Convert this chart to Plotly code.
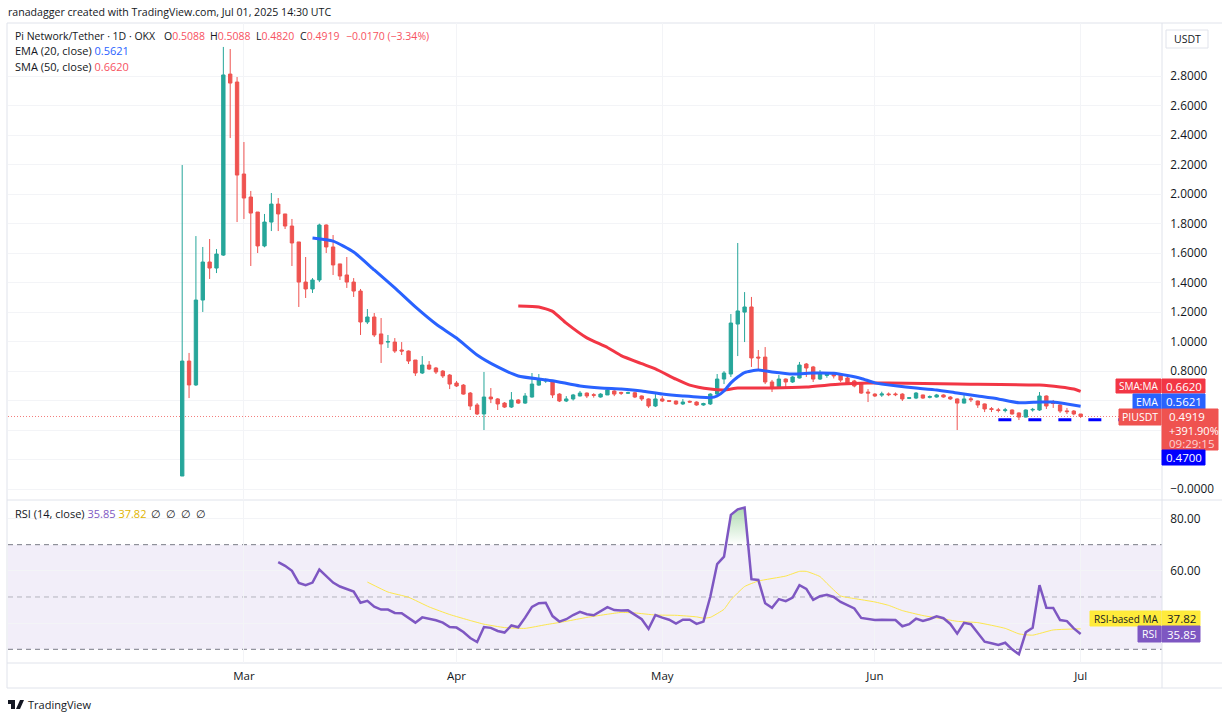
import pandas as pd
import plotly.graph_objects as go

W = 1222
H = 716
FONT = "Open Sans"
UP = "#26a69a"
DOWN = "#ef5350"
TXT = "#131722"
GRID = "#f3f4f7"
BORDER = "#e0e3eb"
EMA_C = "#2962ff"
SMA_C = "#f23645"
RSI_C = "#7e57c2"
MA_C = "#fde74c"

# daily candles, Feb 20 - Jul 1 2025
dates = pd.date_range("2025-02-20", "2025-07-01", freq="D")
opens = [.088, .868, .706, 1.282, 1.540, 1.499, 1.587, 2.815, 2.761,
         2.137, 1.981, 1.879, 1.649, 1.811, 1.933, 1.866, 1.784, 1.676, 1.404, 1.357, 1.418, 1.791, 1.642, 1.527, 1.452,
         1.404, 1.343, 1.133, 1.167, 1.052, .997, .997, .943, .936, .875, .787, .841, .821, .80, .773,
         .719, .705, .651, .57, .509, .624, .611, .583, .556, .604, .583, .624, .705, .732, .733,
         .644, .597, .611, .631, .651, .64, .624, .638, .665, .655, .65, .653, .631, .611, .563,
         .611, .60, .597, .577, .595, .59, .57, .577, .644, .746, .78, 1.119, 1.20, 1.235, .895, .895,
         .726, .685, .746, .726, .753, .848, .828, .746, .77, .78, .773, .753, .733, .719, .658,
         .644, .637, .645, .645, .644, .615, .617, .638, .622, .624, .638, .624, .611, .583, .612,
         .597, .577, .545, .537, .532, .536, .516, .488, .536, .536, .631, .585, .57, .53, .529,
         .5088]
highs = [2.198, .923, 1.716, 1.642, 1.696, 1.628, 2.999, 2.985, 2.795,
         2.354, 2.022, 1.879, 1.866, 2.008, 1.974, 1.866, 1.832, 1.676, 1.574, 1.431, 1.80, 1.795, 1.723, 1.527, 1.574,
         1.431, 1.357, 1.221, 1.194, 1.160, 1.045, 1.024, .997, .94, .875, .902, .868, .828, .807, .78,
         .733, .712, .658, .583, .794, .685, .617, .59, .658, .61, .651, .787, .78, .75, .74,
         .65, .63, .645, .665, .655, .65, .65, .68, .67, .66, .66, .66, .635, .615, .644,
         .63, .60, .60, .61, .60, .595, .585, .65, .78, .80, 1.187, 1.669, 1.336, 1.303, .943, .963,
         .74, .773, .75, .767, .862, .855, .835, .807, .79, .785, .78, .76, .74, .72, .678,
         .65, .66, .655, .655, .65, .622, .658, .64, .635, .645, .642, .63, .615, .638, .624,
         .60, .58, .556, .55, .55, .54, .52, .54, .55, .658, .635, .604, .575, .55, .535,
         .5088]
lows = [.088, .617, .699, 1.201, 1.425, 1.465, 1.581, 2.381, 1.811,
        1.832, 1.513, 1.601, 1.640, 1.750, 1.750, 1.764, 1.513, 1.235, 1.296, 1.330, 1.404, 1.601, 1.452, 1.418, 1.364,
        1.303, 1.045, 1.119, 1.031, .855, .957, .923, .909, .848, .767, .78, .807, .780, .753, .678,
        .692, .64, .536, .502, .40, .583, .536, .55, .55, .577, .577, .62, .70, .72, .617,
        .59, .59, .60, .628, .617, .62, .62, .638, .63, .638, .645, .617, .597, .55, .556,
        .59, .59, .57, .57, .585, .565, .565, .57, .638, .712, .76, .902, .997, .828, .807, .712,
        .658, .68, .692, .72, .75, .76, .726, .74, .755, .75, .726, .71, .69, .645, .59,
        .624, .625, .63, .63, .597, .61, .61, .612, .615, .62, .62, .605, .40, .58, .59,
        .55, .522, .522, .52, .52, .505, .468, .485, .525, .53, .543, .55, .516, .509, .50,
        .482]
closes = [.868, .706, 1.282, 1.540, 1.499, 1.594, 2.809, 2.754, 2.130,
          1.974, 1.872, 1.649, 1.811, 1.933, 1.866, 1.784, 1.669, 1.404, 1.357, 1.418, 1.791, 1.642, 1.520, 1.445, 1.404,
          1.343, 1.133, 1.167, 1.045, .984, 1.0, .936, .936, .868, .787, .841, .814, .794, .767, .712,
          .699, .644, .563, .509, .624, .611, .577, .556, .604, .583, .631, .712, .739, .739, .638,
          .597, .611, .638, .651, .631, .636, .644, .672, .644, .65, .653, .624, .611, .563, .611,
          .597, .595, .577, .59, .59, .57, .58, .644, .746, .787, 1.126, 1.208, 1.235, .889, .889, .726,
          .685, .746, .726, .76, .841, .821, .746, .78, .78, .767, .739, .719, .699, .651, .651,
          .631, .645, .64, .64, .611, .619, .651, .617, .627, .638, .624, .611, .583, .611, .606,
          .57, .543, .54, .533, .537, .509, .488, .536, .54, .631, .563, .58, .529, .525, .5089,
          .4919]

ema_dates = ["2025-03-11", "2025-03-14", "2025-03-17", "2025-03-20", "2025-03-23", "2025-03-26", "2025-03-29",
             "2025-04-01", "2025-04-04", "2025-04-07", "2025-04-10", "2025-04-13", "2025-04-15", "2025-04-19",
             "2025-04-22", "2025-04-25", "2025-04-28", "2025-05-01", "2025-05-04", "2025-05-08", "2025-05-09",
             "2025-05-10", "2025-05-11", "2025-05-12", "2025-05-13", "2025-05-15", "2025-05-17", "2025-05-20",
             "2025-05-23", "2025-05-26", "2025-05-28", "2025-05-30", "2025-06-01", "2025-06-04", "2025-06-07",
             "2025-06-10", "2025-06-13", "2025-06-16", "2025-06-19", "2025-06-22", "2025-06-25", "2025-06-27",
             "2025-06-29", "2025-07-01"]
ema_vals = [1.703, 1.682, 1.608, 1.486, 1.364, 1.235, 1.119, 1.024, .909, .828, .767, .746, .735, .699, .685, .678,
            .665, .644, .631, .62, .631, .665, .72, .76, .79, .807, .794, .78, .787, .785, .77, .75, .72, .70, .685,
            .672, .651, .631, .611, .585, .59, .59, .577, .5621]

sma_dates = ["2025-04-10", "2025-04-13", "2025-04-15", "2025-04-17", "2025-04-20", "2025-04-23", "2025-04-25",
             "2025-04-28", "2025-04-30", "2025-05-03", "2025-05-05", "2025-05-08", "2025-05-10", "2025-05-12",
             "2025-05-15", "2025-05-17", "2025-05-22", "2025-05-27", "2025-05-31", "2025-06-03", "2025-06-13",
             "2025-06-25", "2025-06-28", "2025-06-30", "2025-07-01"]
sma_vals = [1.241, 1.235, 1.205, 1.125, 1.025, .96, .905, .85, .815, .745, .705, .678, .672, .685, .685, .685, .692,
            .712, .719, .719, .712, .705, .692, .678, .662]

support_dates = ["2025-06-19", "2025-07-12"]
support_vals = [.47, .47]

rsi_dates = pd.date_range("2025-03-06", "2025-07-01", freq="D")
rsi_vals = [63.3, 61.9, 60.0, 55.4, 54.5, 55.5, 60.5, 57.8, 55.5, 54.0, 53.2, 52.1, 47.8, 48.5, 46.3, 45.2, 45.2,
            43.9, 43.8, 42.1, 40.2, 42.2, 41.7, 41.1, 40.2, 38.5,
            38.3, 36.6, 34.3, 32.8, 38.5, 38.2, 37.0, 36.4, 39.1, 38.4, 42.1, 46.2, 47.6, 47.8, 42.7, 40.6, 41.5,
            43.1, 44.3, 43.4, 43.0, 44.4, 46.1, 45.0, 44.8, 44.9, 43.1, 41.5, 37.8, 43.1,
            42.1, 41.3, 39.8, 41.3, 41.3, 39.7, 40.6, 50.1, 62.6, 65.4, 81.4, 83.5, 84.2, 56.8, 56.5, 47.6, 45.9,
            49.2, 48.4, 49.8, 54.5, 53.1, 48.9, 50.3, 50.8, 50.0, 48.1, 46.8, 45.6, 42.0, 41.6,
            41.2, 41.3, 41.3, 41.2, 38.8, 39.6, 41.7, 40.8, 41.6, 42.6, 41.9, 39.7, 36.0, 40.1, 39.6, 36.4, 32.9,
            32.3, 31.7, 32.5, 30.0, 28.1, 36.5, 38.2, 54.5, 45.9, 45.8, 41.2, 40.8, 38.0,
            35.85]

ma_dates = ["2025-03-19", "2025-03-22", "2025-03-25", "2025-03-28", "2025-03-31", "2025-04-03", "2025-04-05",
            "2025-04-08", "2025-04-11", "2025-04-14", "2025-04-17", "2025-04-20", "2025-04-23", "2025-04-25",
            "2025-04-27", "2025-04-30", "2025-05-03", "2025-05-06", "2025-05-07", "2025-05-08", "2025-05-10",
            "2025-05-11", "2025-05-13", "2025-05-15", "2025-05-19", "2025-05-21", "2025-05-22", "2025-05-24",
            "2025-05-25", "2025-05-27", "2025-05-29", "2025-06-01", "2025-06-03", "2025-06-05", "2025-06-08",
            "2025-06-11", "2025-06-13", "2025-06-16", "2025-06-20", "2025-06-22", "2025-06-24", "2025-06-27",
            "2025-07-01"]
ma_vals = [55.7, 51.9, 49.9, 46.2, 43.3, 41.0, 39.6, 38.3, 38.0, 39.4, 40.7, 42.2, 43.4, 44.1, 43.9, 43.1, 43.0, 42.4,
           41.9, 42.2, 45.3, 48.9, 54.0, 56.1, 58.0, 59.8, 59.8, 57.8, 55.2, 50.4, 49.4, 48.1, 46.8, 44.8, 42.9, 41.6,
           40.7, 40.2, 38.0, 35.9, 35.4, 37.4, 37.82]

# part of the RSI line above the 70 band
ob_dates = ["2025-05-10 07:00", "2025-05-11", "2025-05-12", "2025-05-13", "2025-05-13 12:30"]
ob_vals = [70, 81.4, 83.5, 84.2, 70]

price_ticks = [0, .2, .4, .6, .8, 1.0, 1.2, 1.4, 1.6, 1.8, 2.0, 2.2, 2.4, 2.6, 2.8]
price_labels = ["−0.0000", "", "", "", "0.8000", "1.0000", "1.2000", "1.4000", "1.6000", "1.8000", "2.0000",
                "2.2000", "2.4000", "2.6000", "2.8000"]
rsi_ticks = [40, 60, 80]
rsi_labels = ["", "60.00", "80.00"]
month_ticks = ["2025-03-01", "2025-04-01", "2025-05-01", "2025-06-01", "2025-07-01"]
month_labels = ["Mar", "Apr", "May", "Jun", "Jul"]


def fx(x):
    return x / W


def fy(y):
    return 1 - y / H


fig = go.Figure()
fig.add_trace(go.Candlestick(x=dates, open=opens, high=highs, low=lows, close=closes,
                             increasing=dict(line=dict(color=UP, width=1), fillcolor=UP),
                             decreasing=dict(line=dict(color=DOWN, width=1), fillcolor=DOWN),
                             whiskerwidth=0, xaxis="x", yaxis="y"))
fig.add_trace(go.Scatter(x=sma_dates, y=sma_vals, mode="lines", xaxis="x", yaxis="y",
                         line=dict(color=SMA_C, width=3, shape="spline", smoothing=0.5)))
fig.add_trace(go.Scatter(x=ema_dates, y=ema_vals, mode="lines", xaxis="x", yaxis="y",
                         line=dict(color=EMA_C, width=3, shape="spline", smoothing=0.5)))
fig.add_trace(go.Scatter(x=support_dates, y=support_vals, mode="lines", xaxis="x", yaxis="y",
                         line=dict(color="#0000ff", width=3, dash="13px,17px")))

fig.add_trace(go.Scatter(x=ob_dates, y=ob_vals, mode="lines", xaxis="x2", yaxis="y2", fill="toself",
                         line=dict(width=0),
                         fillgradient=dict(type="vertical",
                                           colorscale=[[0, "rgba(76,175,80,0)"], [1, "rgba(76,175,80,0.45)"]])))
fig.add_trace(go.Scatter(x=ma_dates, y=ma_vals, mode="lines", xaxis="x2", yaxis="y2",
                         line=dict(color=MA_C, width=1, shape="spline", smoothing=0.4)))
fig.add_trace(go.Scatter(x=rsi_dates, y=rsi_vals, mode="lines", xaxis="x2", yaxis="y2",
                         line=dict(color=RSI_C, width=2.5)))

x_range = ["2025-01-25 14:24", "2025-07-12 20:40"]
fig.update_layout(
    width=W, height=H, margin=dict(l=0, r=0, t=0, b=0), autosize=False,
    paper_bgcolor="white", plot_bgcolor="white", showlegend=False, hovermode=False,
    font=dict(family=FONT, size=11.5, color=TXT),
    xaxis=dict(domain=[fx(8), fx(1162)], range=x_range, anchor="y", rangeslider=dict(visible=False),
               tickvals=month_ticks, ticktext=month_labels, showticklabels=False,
               showgrid=True, gridcolor=GRID, gridwidth=1, zeroline=False, ticks=""),
    xaxis2=dict(domain=[fx(8), fx(1162)], range=x_range, anchor="y2",
                tickvals=month_ticks, ticktext=month_labels, showgrid=True, gridcolor=GRID, gridwidth=1,
                zeroline=False, ticks="outside", ticklen=2, tickcolor="rgba(0,0,0,0)",
                tickfont=dict(family=FONT, size=11.5, color=TXT)),
    yaxis=dict(domain=[fy(500), fy(23)], range=[-0.0746, 3.1615], side="right", anchor="x",
               tickvals=price_ticks, ticktext=price_labels, showgrid=True, gridcolor=GRID, gridwidth=1,
               zeroline=False, ticks="outside", ticklen=5, tickcolor="rgba(0,0,0,0)",
               tickfont=dict(family=FONT, size=11.8, color=TXT)),
    yaxis2=dict(domain=[fy(663), fy(501)], range=[24.76, 86.7], side="right", anchor="x2",
                tickvals=rsi_ticks, ticktext=rsi_labels, showgrid=True, gridcolor=GRID, gridwidth=1,
                zeroline=False, ticks="outside", ticklen=5, tickcolor="rgba(0,0,0,0)",
                tickfont=dict(family=FONT, size=11.8, color=TXT)),
)

shapes = []
annots = []


def box(x0, y0, x1, y1, fill="rgba(0,0,0,0)", line=None):
    shapes.append(dict(type="rect", xref="paper", yref="paper", x0=fx(x0), x1=fx(x1), y0=fy(y0), y1=fy(y1),
                       fillcolor=fill, line=dict(color=line or fill, width=1), layer="above"))


def label(x, y, text, color=TXT, size=11.5, anchor="left"):
    annots.append(dict(xref="paper", yref="paper", x=fx(x), y=fy(y), text=text, showarrow=False, xanchor=anchor,
                       yanchor="middle", font=dict(family=FONT, size=size, color=color),
                       borderpad=0, borderwidth=0))


# rsi band and levels
shapes.append(dict(type="rect", xref="x2 domain", yref="y2", x0=0, x1=1, y0=30, y1=70,
                   fillcolor="rgba(126,87,194,0.1)", line=dict(width=0), layer="below"))
for lvl, col in [(70, "#787b86"), (50, "rgba(120,123,134,0.5)"), (30, "#787b86")]:
    shapes.append(dict(type="line", xref="x2 domain", yref="y2", x0=0, x1=1, y0=lvl, y1=lvl,
                       line=dict(color=col, width=1, dash="5px,4px"), layer="below"))
# last price line
shapes.append(dict(type="line", xref="x domain", yref="y", x0=0, x1=1, y0=closes[-1], y1=closes[-1],
                   line=dict(color="rgba(239,83,80,0.75)", width=1, dash="1px,2px"), layer="below"))

# frame
for x0, y0, x1, y1 in [(7, 23, 1222, 23), (7, 500, 1222, 500), (7, 663, 1222, 663), (7, 688, 1222, 688),
                       (7, 23, 7, 688), (1162, 23, 1162, 688)]:
    shapes.append(dict(type="line", xref="paper", yref="paper", x0=fx(x0), x1=fx(x1), y0=fy(y0), y1=fy(y1),
                       line=dict(color=BORDER, width=1), layer="below"))

# header texts
label(8, 12, "ranadagger created with TradingView.com, Jul 01, 2025 14:30 UTC", size=10.6)
label(15, 36, "Pi Network/Tether · 1D · OKX", size=10.5)
red = "#f7525f"
for x, head, val in [(164, "O", "0.5088"), (210, "H", "0.5088"), (256, "L", "0.4820"), (300, "C", "0.4919")]:
    label(x, 36, f"{head}<span style='color:{red}'>{val}</span>", size=10.5)
label(346, 36, "−0.0170 (−3.34%)", color=red, size=10.5)
label(15, 51, f"EMA (20, close) <span style='color:{EMA_C}'>0.5621</span>", size=11)
label(15, 67, f"SMA (50, close) <span style='color:{red}'>0.6620</span>", size=11)
label(15, 513, f"RSI (14, close) <span style='color:{RSI_C}'>35.85</span> "
               f"<span style='color:#e0b400'>37.82</span>", size=11)
for x in [156, 171, 186, 201]:
    label(x, 513, "∅", size=11, anchor="center")

# USDT button
box(1166, 30, 1208, 48, fill="white", line=BORDER)
label(1187, 39, "USDT", size=10.5, anchor="center")

# price tags
box(1116, 379, 1161, 393, fill=SMA_C)
label(1138.5, 386, "SMA:MA", color="white", size=10, anchor="center")
box(1162, 379, 1205, 393, fill=SMA_C)
label(1184, 386, "0.6620", color="white", anchor="center")
box(1133, 394, 1161, 409, fill=EMA_C)
label(1147, 401.5, "EMA", color="white", size=10.5, anchor="center")
box(1162, 394, 1205, 409, fill=EMA_C)
label(1184, 401.5, "0.5621", color="white", anchor="center")
box(1119, 409, 1161, 425, fill=DOWN)
label(1140, 417, "PIUSDT", color="white", size=10.5, anchor="center")
box(1162, 409, 1218, 450, fill=DOWN)
label(1169, 417, "0.4919", color="white")
label(1169, 430, "+391.90%", color="white", size=11)
label(1169, 443, "09:29:15", color="rgba(255,255,255,0.75)")
box(1162, 450, 1205, 465, fill="#0000ff")
label(1184, 457.5, "0.4700", color="white", anchor="center")

# rsi tags
box(1090, 611, 1161, 626, fill="#ffeb3b")
label(1125.5, 618.5, "RSI-based MA", color=TXT, size=10, anchor="center")
box(1162, 611, 1200, 626, fill="#ffeb3b")
label(1181, 618.5, "37.82", color=TXT, anchor="center")
box(1138, 626, 1161, 642, fill=RSI_C)
label(1149.5, 634, "RSI", color="white", size=10.5, anchor="center")
box(1162, 626, 1200, 642, fill=RSI_C)
label(1181, 634, "35.85", color="white", anchor="center")

# footer logo and name
shapes.append(dict(type="path", xref="paper", yref="paper", line=dict(width=0), fillcolor=TXT, layer="above",
                   path=f"M {fx(8)} {fy(700)} L {fx(15)} {fy(700)} L {fx(15)} {fy(709)} L {fx(11)} {fy(709)} "
                        f"L {fx(11)} {fy(704)} L {fx(8)} {fy(704)} Z "
                        f"M {fx(20)} {fy(700)} L {fx(24)} {fy(700)} L {fx(20)} {fy(709)} L {fx(16)} {fy(709)} Z"))
label(28, 704, "TradingView", size=11)

fig.update_layout(shapes=shapes, annotations=annots)

fig.write_html("out.html", config=dict(displayModeBar=False), post_script="document.body.style.margin='0';")
